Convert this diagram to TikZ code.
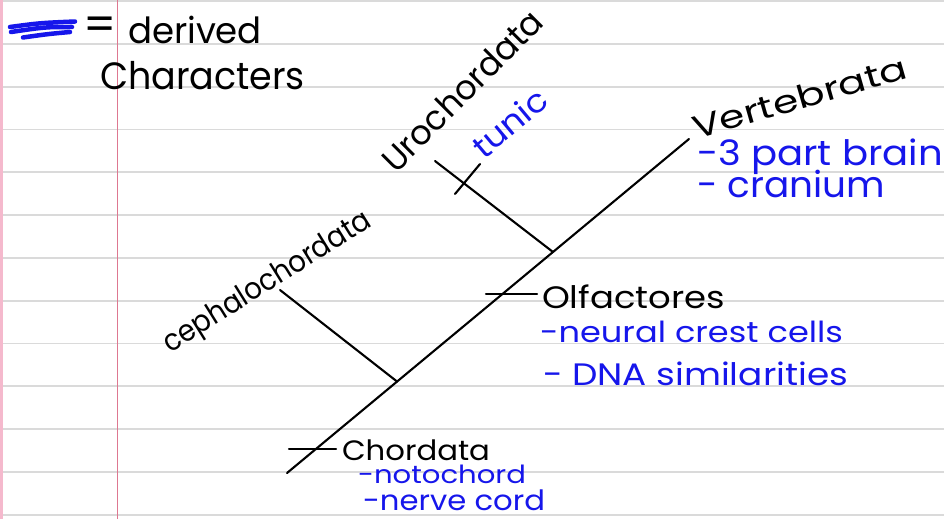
\documentclass[tikz,border=0pt]{standalone}
\usepackage{fontspec}
\setmainfont{Poppins}
\definecolor{inkblue}{RGB}{22,22,235}
\definecolor{rule}{RGB}{218,218,218}
\definecolor{margin}{RGB}{222,120,145}
\definecolor{edge}{RGB}{245,185,205}
% width, font size, text: set at given size, stretched to width
\newcommand\hw[3]{\resizebox{#1pt}{\height}{\fontsize{#2}{#2}\selectfont #3}}
\begin{document}
\begin{tikzpicture}[x=1pt,y=-1pt,
  ink/.style={line width=2.1pt,black,line cap=round},
  lbl/.style={inner sep=0pt,outer sep=0pt,text=black,anchor=base west},
  blbl/.style={inner sep=0pt,outer sep=0pt,text=inkblue,anchor=base west},
  scrib/.style={inkblue,line width=4.5pt,line cap=round}]
\useasboundingbox (0,0) rectangle (944,519);
\fill[white] (0,0) rectangle (944,519);
% ruled lines
\foreach \k in {0,...,12} {
  \draw[rule,line width=1.8pt] (0,{1+42.8*\k}) -- (944,{1+42.8*\k});
}
\draw[edge,line width=3pt] (1,0) -- (1,519);
\draw[margin,line width=1.3pt] (117.5,0) -- (117.5,519);
% legend
\draw[scrib] (10,27) .. controls (40,23) .. (75,21.5);
\draw[scrib] (11,32) .. controls (45,27) .. (72,27);
\draw[scrib] (23,37.5) .. controls (48,34) .. (70,32);
\node[inner sep=0pt,text=black] (eq) at (100,29) {\fontsize{46}{46}\selectfont =};
\node[lbl] (derived) at (128,43) {\hw{134}{36}{derived}};
\node[lbl] (characters) at (100,89) {\hw{205}{38}{Characters}};
% tree
\coordinate (root) at (287,473);
\coordinate (vtip) at (689,139);
\coordinate (cj) at (397,381.5);
\coordinate (uj) at (553,252);
\coordinate (ctip) at (280,290);
\coordinate (utip) at (435,161);
\draw[ink] (root) -- (vtip);
\draw[ink] (ctip) -- (cj);
\draw[ink] (utip) -- (uj);
% ticks
\coordinate (t1a) at (289,449); \coordinate (t1b) at (336,449);
\coordinate (t2a) at (486,294); \coordinate (t2b) at (537,294);
\coordinate (t3a) at (455,194); \coordinate (t3b) at (480,164);
\draw[ink] (t1a) -- (t1b);
\draw[ink] (t2a) -- (t2b);
\draw[ink] (t3a) -- (t3b);
% labels
\node[lbl,rotate=45] (uro) at (396,174) {\hw{212}{34}{Urochordata}};
\node[blbl,rotate=40] (tunic) at (484,160) {\hw{87}{32}{tunic}};
\node[lbl,rotate=32] (cephalo) at (170,353) {\hw{240}{30}{cephalochordata}};
\node[lbl,rotate=16] (vert) at (696,139) {\hw{222}{32}{Vertebrata}};
\node[blbl] (brain) at (697,165) {\hw{246}{35}{-3 part brain}};
\node[blbl] (cranium) at (697,197) {\hw{188}{36}{- cranium}};
\node[lbl] (olf) at (542,308) {\hw{183}{31}{Olfactores}};
\node[blbl] (neural) at (540,342) {\hw{303}{29}{-neural crest cells}};
\node[blbl] (dna) at (543,385) {\hw{305}{31}{- DNA similarities}};
\node[lbl] (chord) at (342,460) {\hw{148}{28}{Chordata}};
\node[blbl] (noto) at (358,483) {\hw{168}{25}{-notochord}};
\node[blbl] (nerve) at (363,510) {\hw{182}{28}{-nerve cord}};
\end{tikzpicture}
\end{document}
